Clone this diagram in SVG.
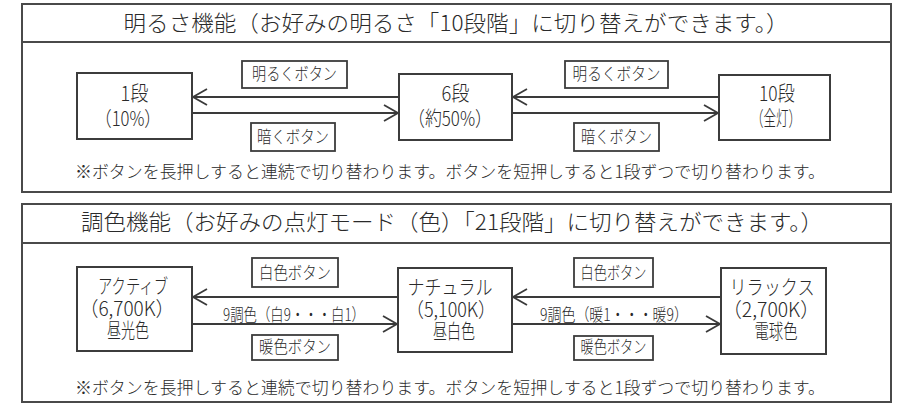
<svg xmlns="http://www.w3.org/2000/svg" width="906" height="405" viewBox="0 0 906 405">
<defs>
<marker id="arr" markerUnits="userSpaceOnUse" markerWidth="20" markerHeight="20" viewBox="-16 -10 20 20" refX="0" refY="0" orient="auto">
<path d="M-14,-8 L0,0 L-14,8" fill="none" stroke="#3a3a3a" stroke-width="1.8"/>
</marker>
<style>
.panel{fill:#fff;stroke:#4a4a4a;stroke-width:2}
.div{stroke:#4a4a4a;stroke-width:2}
.node{fill:#fff;stroke:#3c3c3c;stroke-width:2}
.lbl{fill:#fff;stroke:#3c3c3c;stroke-width:1.8}
.conn{stroke:#3a3a3a;stroke-width:1.8;fill:none}
text{font-family:"Noto Sans CJK JP","Noto Sans",sans-serif;font-weight:300;fill:#2a2a2a;text-anchor:middle}
.t{font-size:22px}
.n{font-size:20px}
.l{font-size:17px}
.f{font-size:17px}
</style>
</defs>
<rect width="906" height="405" fill="#fff"/>

<g id="panel-brightness">
<rect class="panel" x="22" y="4" width="869" height="188"/>
<line class="div" x1="22" y1="42" x2="891" y2="42"/>
<text class="t" x="456" y="31" textLength="665" lengthAdjust="spacingAndGlyphs">明るさ機能（お好みの明るさ「10段階」に切り替えができます。）</text>
<text class="f" x="450" y="178" textLength="750" lengthAdjust="spacingAndGlyphs">※ボタンを長押しすると連続で切り替わります。ボタンを短押しすると1段ずつで切り替わります。</text>
</g>

<g id="panel-color">
<rect class="panel" x="22" y="204" width="869" height="198"/>
<line class="div" x1="22" y1="243" x2="891" y2="243"/>
<text class="t" x="452" y="230" textLength="742" lengthAdjust="spacingAndGlyphs">調色機能（お好みの点灯モード（色）「21段階」に切り替えができます。）</text>
<text class="f" x="450" y="394" textLength="750" lengthAdjust="spacingAndGlyphs">※ボタンを長押しすると連続で切り替わります。ボタンを短押しすると1段ずつで切り替わります。</text>
</g>

<g id="connectors">
<line class="conn" x1="399" y1="97" x2="193" y2="97" marker-end="url(#arr)"/>
<line class="conn" x1="192" y1="113" x2="398" y2="113" marker-end="url(#arr)"/>
<line class="conn" x1="719" y1="97" x2="513" y2="97" marker-end="url(#arr)"/>
<line class="conn" x1="512" y1="113" x2="718" y2="113" marker-end="url(#arr)"/>
<line class="conn" x1="398" y1="297" x2="193" y2="297" marker-end="url(#arr)"/>
<line class="conn" x1="192" y1="324" x2="397" y2="324" marker-end="url(#arr)"/>
<line class="conn" x1="721" y1="297" x2="513" y2="297" marker-end="url(#arr)"/>
<line class="conn" x1="512" y1="324" x2="720" y2="324" marker-end="url(#arr)"/>
<text class="f" x="294" y="321" textLength="142" lengthAdjust="spacingAndGlyphs">9調色（白9・・・白1）</text>
<text class="f" x="614" y="321" textLength="148" lengthAdjust="spacingAndGlyphs">9調色（暖1・・・暖9）</text>
</g>

<g id="btn-bright-1"><rect class="lbl" x="242" y="61" width="105" height="27"/><text class="l" x="294.5" y="80" textLength="85" lengthAdjust="spacingAndGlyphs">明るくボタン</text></g>
<g id="btn-dark-1"><rect class="lbl" x="251" y="123" width="84" height="28"/><text class="l" x="293" y="143" textLength="72" lengthAdjust="spacingAndGlyphs">暗くボタン</text></g>
<g id="btn-bright-2"><rect class="lbl" x="565" y="61" width="103" height="27"/><text class="l" x="616.5" y="80" textLength="88" lengthAdjust="spacingAndGlyphs">明るくボタン</text></g>
<g id="btn-dark-2"><rect class="lbl" x="574" y="123" width="85" height="28"/><text class="l" x="616.5" y="143" textLength="71" lengthAdjust="spacingAndGlyphs">暗くボタン</text></g>

<g id="btn-white-1"><rect class="lbl" x="252" y="258" width="86" height="29"/><text class="l" x="295" y="279" textLength="72" lengthAdjust="spacingAndGlyphs">白色ボタン</text></g>
<g id="btn-warm-1"><rect class="lbl" x="252" y="335" width="86" height="25"/><text class="l" x="295" y="353" textLength="72" lengthAdjust="spacingAndGlyphs">暖色ボタン</text></g>
<g id="btn-white-2"><rect class="lbl" x="574" y="258" width="79" height="29"/><text class="l" x="613.5" y="279" textLength="66" lengthAdjust="spacingAndGlyphs">白色ボタン</text></g>
<g id="btn-warm-2"><rect class="lbl" x="574" y="336" width="79" height="24"/><text class="l" x="613.5" y="353" textLength="66" lengthAdjust="spacingAndGlyphs">暖色ボタン</text></g>

<g id="node-1dan"><rect class="node" x="77" y="73" width="115" height="66"/><text class="n" x="134.5" y="101" textLength="28" lengthAdjust="spacingAndGlyphs">1段</text><text class="n" x="128" y="126" textLength="66" lengthAdjust="spacingAndGlyphs">（10%）</text></g>
<g id="node-6dan"><rect class="node" x="399" y="74" width="113" height="66"/><text class="n" x="455.5" y="101" textLength="28" lengthAdjust="spacingAndGlyphs">6段</text><text class="n" x="450" y="126" textLength="84" lengthAdjust="spacingAndGlyphs">（約50%）</text></g>
<g id="node-10dan"><rect class="node" x="719" y="75" width="111" height="65"/><text class="n" x="777" y="101" textLength="36" lengthAdjust="spacingAndGlyphs">10段</text><text class="n" x="776" y="126" textLength="50" lengthAdjust="spacingAndGlyphs">（全灯）</text></g>

<g id="node-active"><rect class="node" x="77" y="267" width="115" height="84"/><text class="n" x="133" y="294" textLength="70" lengthAdjust="spacingAndGlyphs">アクティブ</text><text class="n" x="127" y="316" textLength="95" lengthAdjust="spacingAndGlyphs">（6,700K）</text><text class="n" x="128" y="338" textLength="42" lengthAdjust="spacingAndGlyphs">昼光色</text></g>
<g id="node-natural"><rect class="node" x="398" y="268" width="114" height="84"/><text class="n" x="450" y="295" textLength="85" lengthAdjust="spacingAndGlyphs">ナチュラル</text><text class="n" x="451" y="317" textLength="90" lengthAdjust="spacingAndGlyphs">（5,100K）</text><text class="n" x="454" y="339" textLength="42" lengthAdjust="spacingAndGlyphs">昼白色</text></g>
<g id="node-relax"><rect class="node" x="721" y="268" width="105" height="86"/><text class="n" x="772" y="295" textLength="85" lengthAdjust="spacingAndGlyphs">リラックス</text><text class="n" x="771" y="317" textLength="97" lengthAdjust="spacingAndGlyphs">（2,700K）</text><text class="n" x="776" y="339" textLength="43" lengthAdjust="spacingAndGlyphs">電球色</text></g>
</svg>
